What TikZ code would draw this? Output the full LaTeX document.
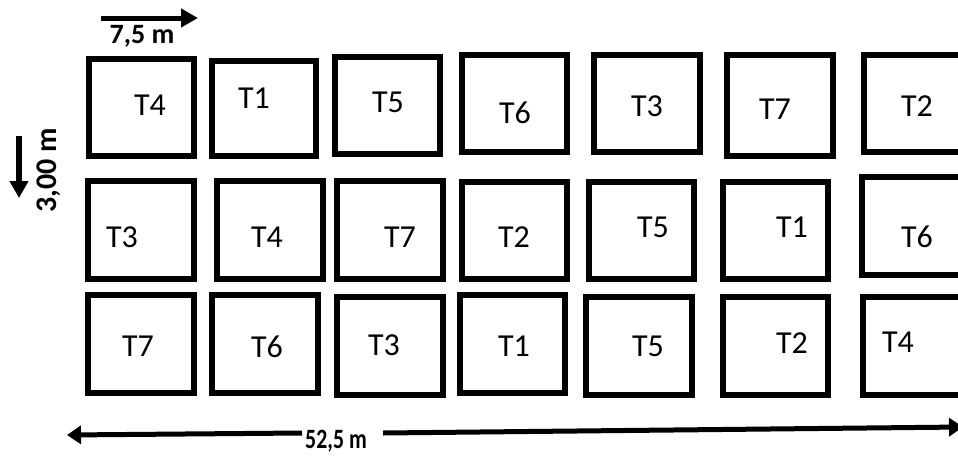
\documentclass[tikz,border=0pt]{standalone}
\usepackage{fontspec}
\setmainfont{Carlito}
\usetikzlibrary{arrows.meta}
\tikzset{
  plotbox/.style={draw=black, line width=6pt, inner sep=0pt, fill=white},
  plotlabel/.style={inner sep=0pt, font=\fontsize{32}{36}\selectfont},
  dimlabel/.style={inner sep=0pt, font=\bfseries\fontsize{28}{32}\selectfont},
  dimarrow/.style={line width=5pt, -{Triangle[length=17pt,width=18pt]}},
}
\begin{document}
\begin{tikzpicture}[x=1pt,y=-1pt]
\useasboundingbox (0,0) rectangle (958,455);
\clip (0,0) rectangle (958,455);
% Row 1
\node[plotbox, minimum width=105pt, minimum height=97pt] (a1) at (141.5,107.5) {};
\node[plotbox, minimum width=104pt, minimum height=95pt] (a2) at (264,108.5) {};
\node[plotbox, minimum width=105pt, minimum height=97pt] (a3) at (387.5,105.5) {};
\node[plotbox, minimum width=105pt, minimum height=97pt] (a4) at (514.5,103.5) {};
\node[plotbox, minimum width=106pt, minimum height=97pt] (a5) at (647,103.5) {};
\node[plotbox, minimum width=106pt, minimum height=101pt] (a6) at (780,105.5) {};
\node[plotbox, minimum width=105pt, minimum height=97pt] (a7) at (916.5,103.5) {};
% Row 2
\node[plotbox, minimum width=106pt, minimum height=98pt] (b1) at (141,230) {};
\node[plotbox, minimum width=106pt, minimum height=98pt] (b2) at (270,230) {};
\node[plotbox, minimum width=106pt, minimum height=98pt] (b3) at (390,230) {};
\node[plotbox, minimum width=105pt, minimum height=97pt] (b4) at (514.5,230.5) {};
\node[plotbox, minimum width=105pt, minimum height=97pt] (b5) at (641.5,230.5) {};
\node[plotbox, minimum width=105pt, minimum height=97pt] (b6) at (775.5,230.5) {};
\node[plotbox, minimum width=105pt, minimum height=98pt] (b7) at (914.5,226) {};
% Row 3
\node[plotbox, minimum width=106pt, minimum height=98pt] (c1) at (141,344) {};
\node[plotbox, minimum width=106pt, minimum height=98pt] (c2) at (265,344) {};
\node[plotbox, minimum width=106pt, minimum height=98pt] (c3) at (390,346) {};
\node[plotbox, minimum width=105pt, minimum height=98pt] (c4) at (512.5,344) {};
\node[plotbox, minimum width=106pt, minimum height=98pt] (c5) at (639,346) {};
\node[plotbox, minimum width=105pt, minimum height=98pt] (c6) at (775.5,346) {};
\node[plotbox, minimum width=105pt, minimum height=98pt] (c7) at (915.5,346) {};
% Labels row 1
\node[plotlabel] (la1) at (150,105) {T4};
\node[plotlabel] (la2) at (254,98) {T1};
\node[plotlabel] (la3) at (388,102) {T5};
\node[plotlabel] (la4) at (515,113) {T6};
\node[plotlabel] (la5) at (647,106) {T3};
\node[plotlabel] (la6) at (775,109) {T7};
\node[plotlabel] (la7) at (917,106) {T2};
% Labels row 2
\node[plotlabel] (lb1) at (122,237) {T3};
\node[plotlabel] (lb2) at (267,237) {T4};
\node[plotlabel] (lb3) at (400,237) {T7};
\node[plotlabel] (lb4) at (514,237) {T2};
\node[plotlabel] (lb5) at (653,227) {T5};
\node[plotlabel] (lb6) at (792,227) {T1};
\node[plotlabel] (lb7) at (917,237) {T6};
% Labels row 3
\node[plotlabel] (lc1) at (138,346) {T7};
\node[plotlabel] (lc2) at (267,347) {T6};
\node[plotlabel] (lc3) at (384,345) {T3};
\node[plotlabel] (lc4) at (514,346) {T1};
\node[plotlabel] (lc5) at (648,346) {T5};
\node[plotlabel] (lc6) at (792,343) {T2};
\node[plotlabel] (lc7) at (898,342) {T4};
% Dimension arrows
\coordinate (topA) at (101,18);
\coordinate (topB) at (198,18);
\draw[dimarrow] (topA) -- (topB);
\node[dimlabel, anchor=base] (wlab) at (142,43) {7,5 m};
\coordinate (leftA) at (19,136);
\coordinate (leftB) at (19,198);
\draw[dimarrow, line width=6pt] (leftA) -- (leftB);
\node[dimlabel, anchor=base, rotate=90, font=\bfseries\fontsize{30}{34}\selectfont] (hlab) at (56,170) {3,00 m};
\node[dimlabel, anchor=base, xscale=0.78, transform shape] (llab) at (336,448) {52,5 m};
\coordinate (botL) at (302,433);
\coordinate (botLtip) at (67,435);
\coordinate (botR) at (383,433);
\coordinate (botRtip) at (963,427);
\draw[dimarrow, -{Triangle[length=14pt,width=18pt]}] (botL) -- (botLtip);
\draw[dimarrow, -{Triangle[length=14pt,width=18pt]}] (botR) -- (botRtip);
\end{tikzpicture}
\end{document}
